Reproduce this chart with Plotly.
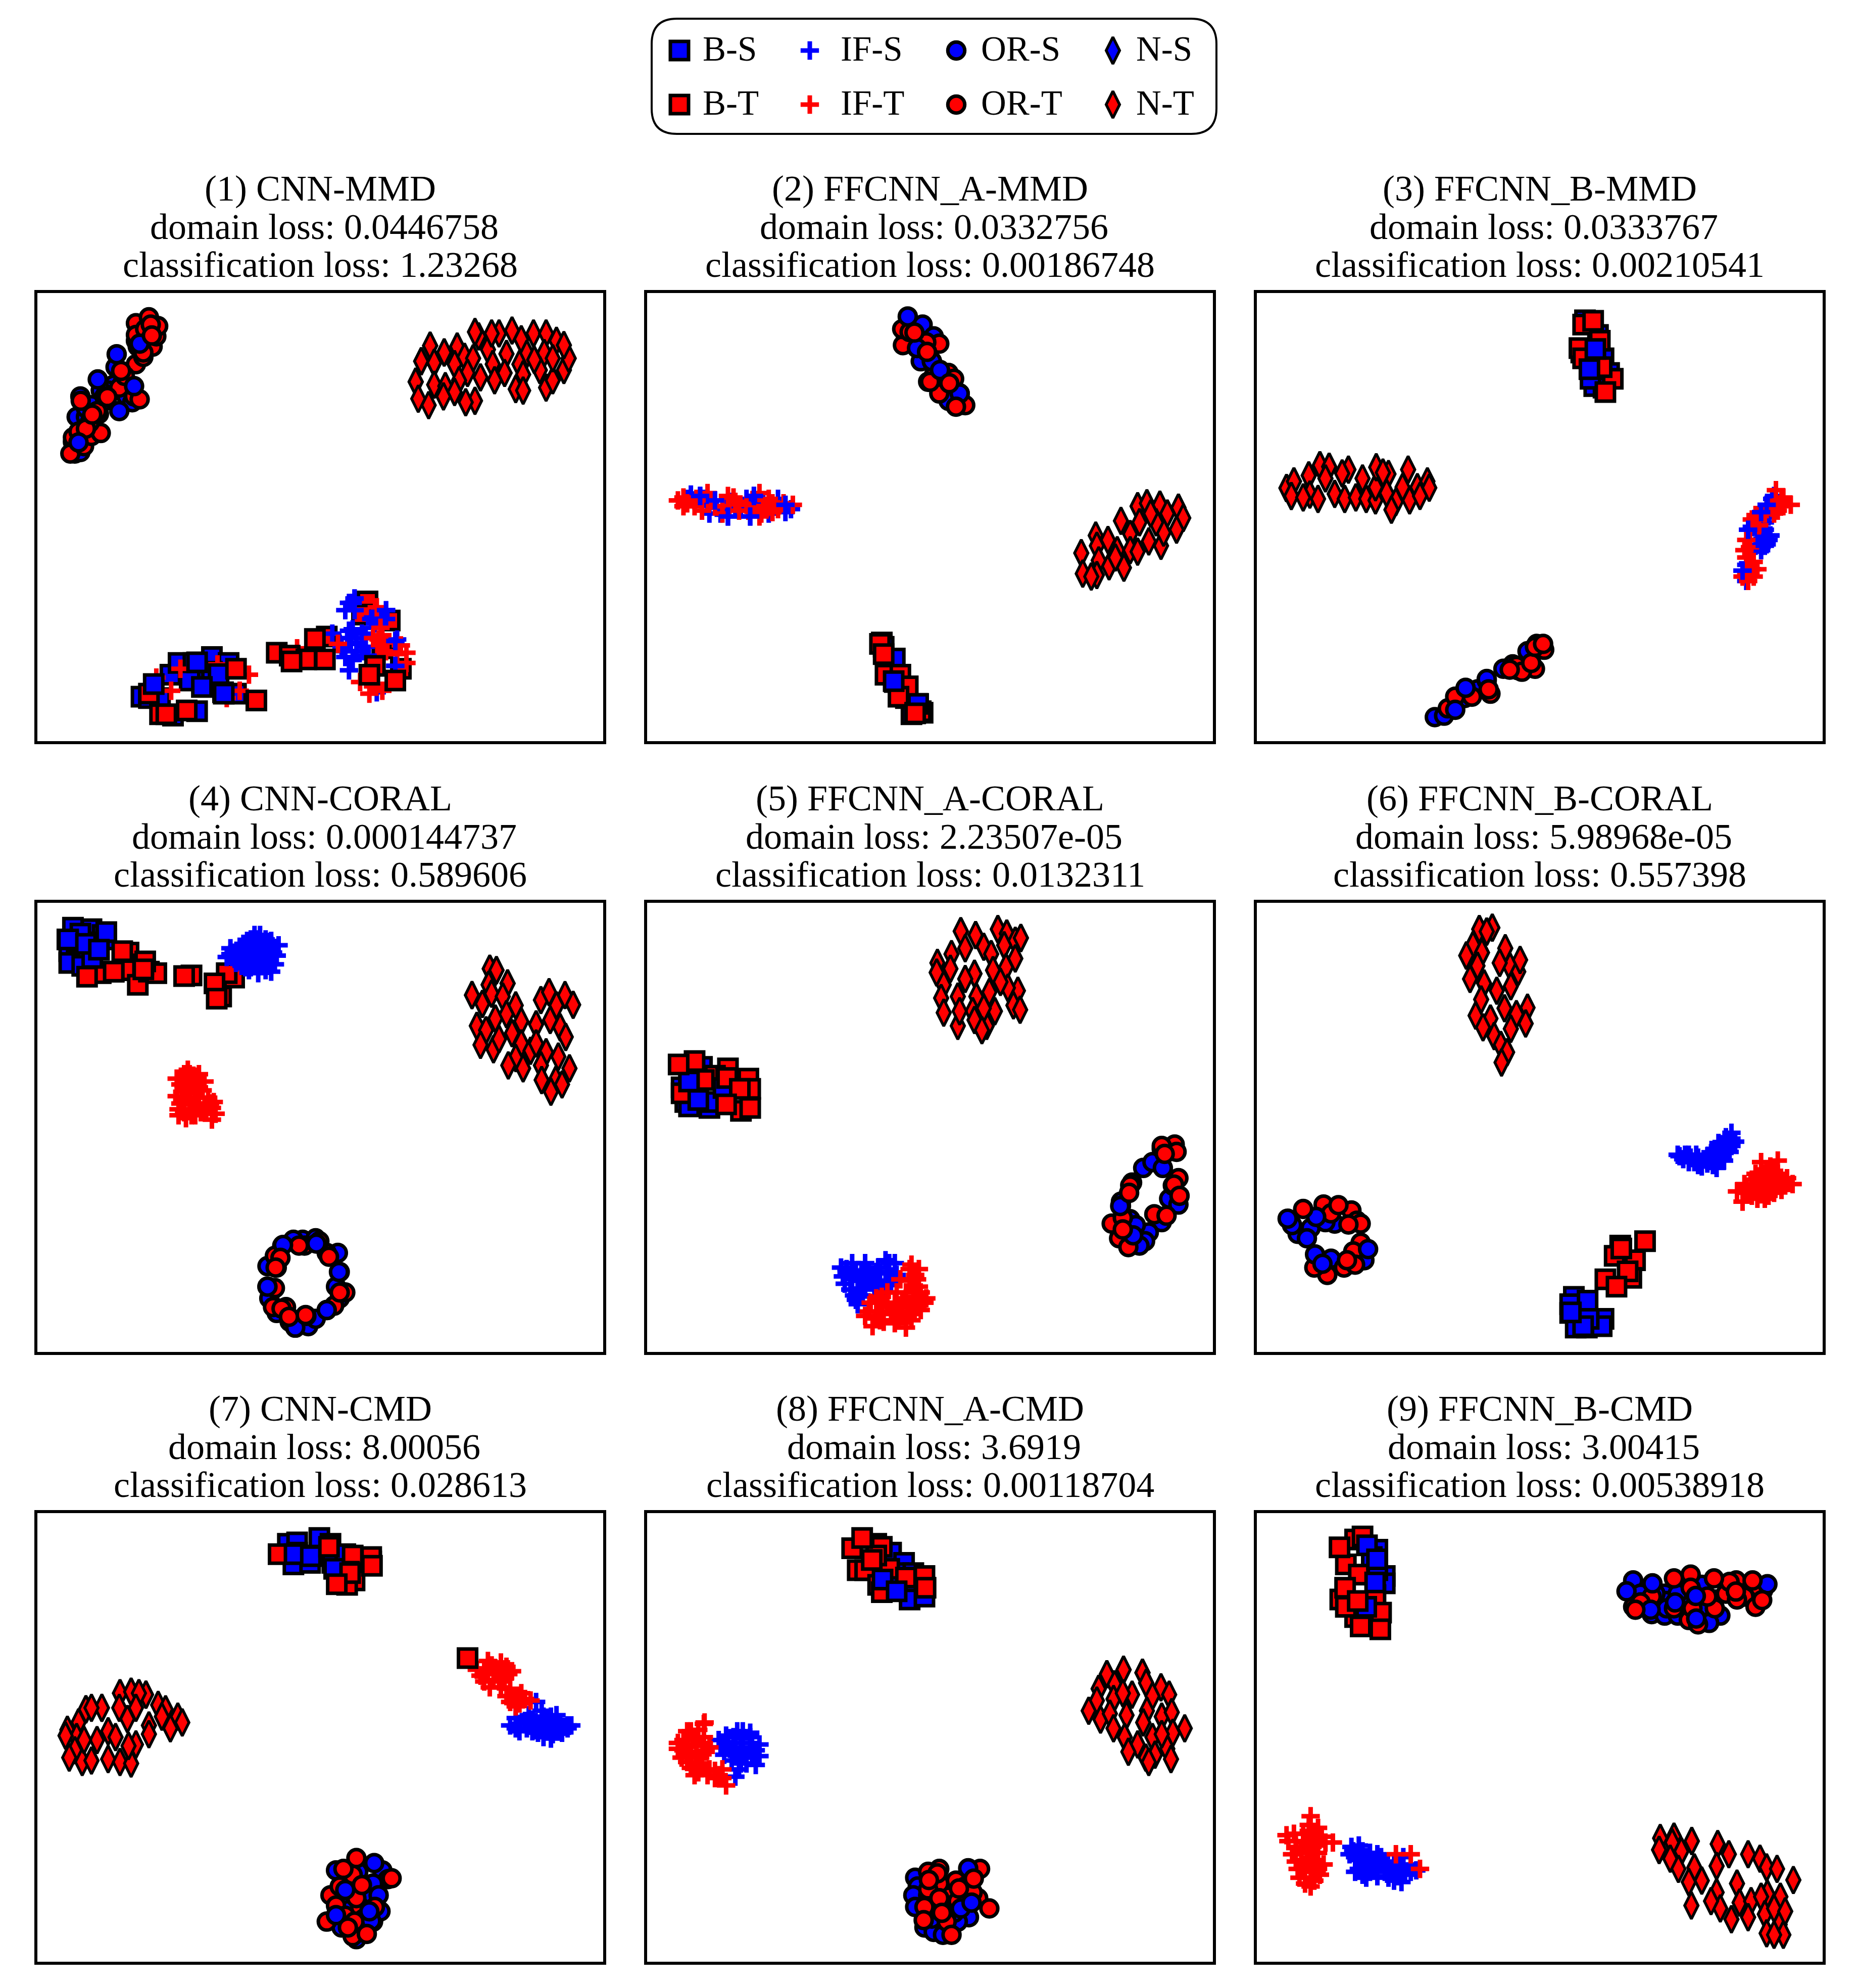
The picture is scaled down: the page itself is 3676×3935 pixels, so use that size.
import plotly.graph_objects as go

# t-SNE style clusters; units are crop pixels of each panel
TITLES = ["(1) CNN-MMD", "(2) FFCNN_A-MMD", "(3) FFCNN_B-MMD", "(4) CNN-CORAL", "(5) FFCNN_A-CORAL",
          "(6) FFCNN_B-CORAL", "(7) CNN-CMD", "(8) FFCNN_A-CMD", "(9) FFCNN_B-CMD"]
DOMAIN_LOSS = ["0.0446758", "0.0332756", "0.0333767", "0.000144737", "2.23507e-05",
               "5.98968e-05", "8.00056", "3.6919", "3.00415"]
CLASS_LOSS = ["1.23268", "0.00186748", "0.00210541", "0.589606", "0.0132311",
              "0.557398", "0.028613", "0.00118704", "0.00538918"]

LEGEND_NAMES = ["B-S", "IF-S", "OR-S", "N-S", "B-T", "IF-T", "OR-T", "N-T"]
LEGEND_KEYS = ["BS", "IS", "OS", "NS", "BT", "IT", "OT", "NT"]
LEGEND_MARK_X = [1345, 1603, 1893, 2203, 1345, 1603, 1893, 2203]
LEGEND_TEXT_X = [1391, 1664, 1942, 2249, 1391, 1664, 1942, 2249]
LEGEND_MARK_Y = [100, 100, 100, 100, 207, 207, 207, 207]
LEGEND_TEXT_Y = [103, 103, 103, 103, 210, 210, 210, 210]

# panel 1
P1_OS = [(120,565),(135,560),(115,525),(125,440),(135,370),(150,440),(185,430),(195,390),(230,270),(225,330),(285,180),(290,200),(315,130),(260,370),(275,390),(150,410),(165,400),(210,350),(250,320),(190,350)]
P1_OT = [(108,565),(145,540),(165,505),(190,495),(115,510),(280,370),(295,380),(240,340),(285,260),(305,235),(330,200),(340,165),(285,120),(320,100),(345,130),(285,160),(310,140),(325,125),(160,460),(130,490),(150,480),(180,420),(255,300),(305,220),(200,370)]
P1_OS2 = [(233,226),(182,312),(280,335),(240,420),(130,527),(295,190)]
P1_OT2 = [(328,162),(245,283),(208,372),(167,432),(136,385)]
P1_NT = [(1079,197),(1055,250),(1117,220),(1090,255),(1152,200),(1040,320),(1090,330),(1047,378),(1075,400),(1120,335),(1145,260),(1172,235),(1195,240),(1180,290),(1157,315),(1215,305),(1200,385),(1175,390),(1145,355),(1115,370),(1210,165),(1235,210),(1200,150),(1265,155),(1245,155),(1300,145),(1325,175),(1358,155),(1392,155),(1420,180),(1387,222),(1340,225),(1285,225),(1248,260),(1280,290),(1253,315),(1320,260),(1330,295),(1375,280),(1310,345),(1330,350),(1392,340),(1410,315),(1440,280),(1453,240),(1440,195),(1410,240),(1360,245)]
P1_BS = [(300,1395),(320,1400),(378,1320),(400,1280),(440,1280),(490,1260),(535,1280),(520,1380),(450,1445),(385,1460),(350,1400),(470,1340),(555,1385),(430,1340),(490,1310)]
P1_BT = [(350,1455),(320,1385),(910,1070),(895,1115),(970,1135),(800,1190),(1000,1300),(950,1230)]
P1_BS2 = [(333,1352),(450,1278),(508,1318),(463,1362),(522,1385)]
P1_BT2 = [(555,1300),(610,1408),(422,1442),(367,1455),(665,1245),(700,1255),(745,1268),(795,1268),(768,1198),(705,1275),(930,1290),(915,1320),(985,1340)]
P1_IS = [(875,1060),(860,1075),(850,1100),(870,1075),(925,1125),(960,1100),(940,1130),(815,1180),(870,1165),(855,1195),(880,1210),(850,1240),(880,1240),(905,1225),(985,1205),(985,1290),(990,1200),(860,1305),(935,1380),(850,1260),(910,1255),(920,1130),(860,1170),(930,1145),(895,1180),(905,1195),(865,1215),(895,1240),(835,1215),(925,1160),(945,1115),(875,1100),(960,1130),(840,1230),(870,1270)]
P1_IT = [(1015,1245),(1015,1280),(950,1185),(925,1195),(960,1210),(915,1385),(925,1360),(950,1375),(890,1345),(405,1300),(380,1375),(505,1285),(565,1375),(590,1320),(530,1400),(525,1365),(340,1330),(720,1230),(830,1215),(935,1090),(945,1160),(1000,1220),(990,1250),(940,1200),(960,1240)]
P1_IS2 = [(875,1060),(960,1100),(985,1205),(985,1290)]

# panel 2
P2_OS = [(765,125),(720,165),(750,205),(760,250),(790,250),(812,280),(795,165),(865,360),(835,385),(780,320),(870,395)]
P2_OT = [(712,195),(710,140),(730,150),(810,190),(775,185),(795,300),(810,360),(835,290),(865,400),(785,320),(880,400),(850,310)]
P2_OS2 = [(725,97),(790,250),(750,205),(812,280),(865,360)]
P2_OT2 = [(743,152),(777,218),(837,325),(855,405)]
P2_BS = [(655,1210),(660,1225),(690,1265),(690,1345),(750,1420),(765,1450),(735,1455),(720,1400)]
P2_BT = [(650,1215),(665,1320),(705,1320),(725,1360),(700,1395),(745,1450),(760,1445)]
P2_BS2 = [(687,1342),(753,1420)]
P2_BT2 = [(660,1250),(745,1452)]
P2_IS = [(140,705),(165,710),(205,725),(220,770),(240,780),(290,720),(310,710),(320,750),(300,780),(350,745),(395,740),(375,720),(395,765),(130,720),(185,740),(260,750),(350,770),(150,725),(175,720),(210,750),(245,730),(275,745),(305,735),(335,725),(375,745),(240,760),(190,770),(410,755)]
P2_IT = [(105,725),(130,735),(185,700),(170,760),(240,710),(260,730),(270,760),(325,700),(350,720),(330,770),(360,765),(415,740),(390,735),(325,780),(150,745),(225,745),(295,760),(345,750),(120,715),(155,720),(205,745),(225,770),(255,715),(310,745),(335,745),(375,755),(360,735),(195,725),(290,740),(120,745)]
P2_IS2 = [(165,710),(205,725),(310,710),(395,740),(300,780),(240,780)]
P2_NT = [(1360,760),(1345,745),(1370,735),(1405,740),(1425,770),(1455,750),(1468,785),(1450,825),(1408,880),(1375,865),(1415,835),(1395,800),(1300,795),(1325,840),(1265,860),(1232,845),(1235,880),(1193,905),(1290,895),(1325,895),(1240,930),(1268,950),(1308,955),(1345,900),(1197,975),(1235,980),(1220,985),(1285,920),(1350,800),(1380,770)]

# panel 3
P3_BS = [(910,110),(930,125),(945,160),(900,220),(915,225),(960,240),(975,290),(935,335),(960,340),(925,310),(940,270)]
P3_BT = [(905,125),(950,180),(895,205),(985,310),(955,270),(905,240)]
P3_BS2 = [(938,208),(922,277)]
P3_BT2 = [(932,112),(965,355)]
P3_IS = [(1420,710),(1400,740),(1385,765),(1350,825),(1410,845),(1400,875),(1385,895),(1395,850),(1350,940),(1335,965),(1345,1000),(1370,800),(1415,720),(1395,800),(1370,880),(1405,780),(1380,780),(1410,760),(1390,780),(1360,815),(1395,825),(1380,860),(1405,860),(1360,900),(1360,960),(1345,945),(1375,840),(1425,735)]
P3_IT = [(1425,690),(1440,725),(1465,740),(1415,750),(1375,790),(1355,825),(1340,895),(1365,935),(1345,975),(1365,985),(1375,960),(1350,1000),(1430,760),(1445,715),(1345,860),(1380,810),(1400,755),(1420,770),(1445,745),(1395,770),(1355,885),(1345,920),(1355,955),(1335,985),(1370,775),(1360,790)]
P3_IS2 = [(1385,765),(1350,825),(1410,845),(1395,880),(1335,965),(1400,740)]
P3_OS = [(505,1465),(530,1460),(585,1400),(620,1370),(645,1340),(690,1300),(715,1285),(755,1240),(780,1215)]
P3_OT = [(540,1435),(560,1395),(605,1395),(655,1385),(730,1305),(775,1300),(725,1290),(790,1225),(800,1235),(740,1310)]
P3_OS2 = [(588,1365),(560,1440),(645,1335)]
P3_OT2 = [(650,1370),(707,1303),(765,1280),(775,1225),(797,1215)]
P3_NT = [(105,683),(125,660),(118,710),(165,640),(195,605),(220,610),(272,620),(255,633),(210,650),(168,705),(150,715),(190,720),(235,703),(262,720),(292,715),(320,720),(345,725),(310,650),(345,680),(347,612),(380,635),(365,630),(375,700),(400,730),(388,757),(437,725),(418,680),(433,620),(458,680),(485,660),(490,682),(465,710)]

# panel 4
P4_BS = [(115,105),(165,110),(195,130),(100,145),(105,185),(125,215),(150,155),(205,145),(185,180),(105,225),(140,235),(135,125),(205,120)]
P4_BT = [(265,190),(255,250),(225,255),(190,260),(290,300),(320,255),(340,260),(305,230),(435,268),(550,275),(515,340),(530,260),(310,220)]
P4_BS2 = [(102,145),(167,208),(150,160),(185,180)]
P4_BT2 = [(248,185),(225,255),(153,272),(305,247),(415,270),(497,295),(503,347)]
P4_IS = [(605,130),(620,130),(585,150),(650,150),(670,165),(565,170),(610,170),(640,180),(540,195),(530,205),(570,205),(610,210),(650,200),(665,200),(595,240),(615,260),(650,255),(580,240),(630,230),(555,225),(600,185),(660,230),(540,175),(625,200),(595,145),(615,145),(635,145),(575,160),(600,160),(625,160),(650,165),(585,175),(615,175),(650,178),(550,190),(575,190),(595,190),(630,190),(655,190),(545,205),(590,205),(635,205),(565,220),(585,220),(605,220),(625,220),(645,220),(570,235),(610,235),(640,235),(590,250),(635,250)]
P4_IT = [(425,590),(395,620),(440,610),(470,630),(405,640),(440,640),(395,680),(430,670),(465,660),(400,725),(430,700),(470,710),(495,700),(500,740),(490,760),(420,755),(445,745),(475,730),(410,695),(440,725),(450,620),(415,605),(430,605),(455,605),(420,625),(435,625),(420,650),(455,650),(410,665),(445,665),(420,685),(450,685),(480,685),(405,705),(445,705),(485,705),(455,720),(490,720),(415,735),(460,735),(400,745),(435,745)]
P4_OS = [(735,1170),(770,1165),(680,1190),(710,1170),(830,1215),(640,1260),(640,1330),(645,1370),(665,1420),(715,1470),(750,1465),(800,1410),(825,1330),(835,1280),(835,1370),(770,1440)]
P4_OT = [(800,1215),(740,1190),(725,1190),(665,1265),(660,1335),(850,1350),(820,1395),(690,1400),(655,1400),(700,1450),(745,1430),(780,1175),(660,1225)]
P4_OS2 = [(682,1188),(772,1183),(833,1280),(640,1330),(800,1410),(715,1470)]
P4_OT2 = [(806,1228),(675,1232),(662,1265),(835,1350),(678,1405),(743,1427),(698,1433)]
P4_NT = [(1240,245),(1258,250),(1288,295),(1237,300),(1245,330),(1192,335),(1220,365),(1275,340),(1255,415),(1285,400),(1310,370),(1205,440),(1230,455),(1215,505),(1250,520),(1265,485),(1300,465),(1325,425),(1365,435),(1378,352),(1400,325),(1420,370),(1443,335),(1465,368),(1403,420),(1430,445),(1445,478),(1325,500),(1350,525),(1310,550),(1290,575),(1330,585),(1392,530),(1378,575),(1425,545),(1455,585),(1418,625),(1380,625),(1405,665),(1435,640),(1365,500)]

# panel 5
P5_NT = [(868,117),(908,130),(968,110),(992,125),(1015,150),(1030,140),(843,195),(880,175),(930,170),(985,165),(950,195),(1015,210),(990,240),(805,225),(803,258),(840,245),(905,262),(955,250),(880,280),(822,300),(860,340),(945,325),(1022,320),(995,310),(910,340),(815,345),(822,395),(900,390),(960,390),(1010,370),(1028,385),(860,440),(905,420),(938,440),(930,380),(865,390),(925,455),(975,290)]
P5_BS = [(115,650),(135,630),(170,580),(125,700),(135,715),(190,720),(230,650),(190,700),(160,610)]
P5_BT = [(150,560),(240,585),(205,610),(295,620),(300,655),(115,670),(275,730),(175,625),(235,620)]
P5_BS2 = [(135,630),(160,693),(228,652)]
P5_BT2 = [(107,572),(238,618),(272,655),(235,708),(300,720)]
P5_IS = [(560,1270),(545,1265),(600,1275),(665,1240),(690,1250),(645,1265),(575,1300),(555,1320),(620,1310),(665,1310),(695,1290),(590,1345),(590,1390),(570,1340),(635,1330),(600,1310),(585,1375),(650,1285),(660,1340),(575,1250),(610,1250),(675,1250),(560,1280),(585,1280),(620,1280),(640,1280),(670,1280),(550,1295),(600,1295),(630,1295),(685,1295),(590,1310),(645,1310),(610,1325),(650,1325),(680,1325),(610,1340),(580,1360),(600,1360)]
P5_IT = [(735,1255),(745,1290),(730,1310),(755,1330),(775,1370),(695,1350),(640,1370),(720,1370),(640,1430),(610,1430),(630,1465),(660,1450),(695,1420),(720,1470),(725,1430),(760,1410),(745,1380),(690,1385),(670,1400),(740,1340),(730,1270),(755,1270),(750,1305),(705,1305),(670,1350),(720,1350),(760,1350),(655,1365),(745,1365),(625,1385),(650,1385),(710,1385),(770,1385),(700,1400),(730,1400),(750,1400),(655,1415),(620,1415),(680,1415),(740,1415),(700,1445),(650,1445),(735,1445),(690,1455)]
P5_OS = [(1360,925),(1385,905),(1330,975),(1300,1055),(1430,1030),(1455,1050),(1410,1110),(1325,1100),(1375,1145),(1365,1175),(1350,1190),(1315,1130),(1300,1040),(1340,1120)]
P5_OT = [(1445,845),(1410,860),(1450,870),(1325,985),(1440,985),(1455,960),(1275,1115),(1305,1095),(1295,1165),(1320,1195),(1390,1083),(1410,850)]
P5_OS2 = [(1413,925),(1298,1055),(1333,1155)]
P5_OT2 = [(1418,877),(1322,1010),(1443,982),(1458,1020),(1423,1088),(1305,1135)]

# panel 6
P6_NT = [(625,110),(660,105),(645,118),(608,165),(590,200),(632,190),(620,235),(695,175),(708,238),(680,225),(730,255),(600,280),(638,295),(710,305),(672,320),(630,350),(693,380),(615,405),(655,415),(755,378),(725,400),(750,432),(710,450),(665,475),(683,505),(700,530),(685,565),(635,445),(735,215)]
P6_IS = [(1305,805),(1290,820),(1315,835),(1270,840),(1250,875),(1300,870),(1165,885),(1180,880),(1215,890),(1240,910),(1285,900),(1190,905),(1225,920),(1265,925),(1160,880),(1305,850),(1205,905),(1250,900),(1295,835),(1285,860),(1270,880),(1290,850),(1230,895),(1195,890),(1210,880),(1175,895),(1240,885),(1255,915),(1215,915),(1275,865),(1260,860),(1300,830),(1305,825),(1190,880),(1240,900),(1280,885)]
P6_IT = [(1385,905),(1430,900),(1410,920),(1370,945),(1455,960),(1340,980),(1320,1005),(1400,960),(1470,980),(1335,1040),(1375,1030),(1405,1020),(1440,1000),(1360,990),(1430,960),(1345,1010),(1395,990),(1400,930),(1420,935),(1390,945),(1410,945),(1430,945),(1445,975),(1385,975),(1360,965),(1345,990),(1375,1005),(1405,1000),(1425,985),(1420,1010),(1395,1030),(1360,1020),(1440,970),(1410,975),(1375,960),(1385,1015),(1450,985)]
P6_OS = [(135,1150),(170,1130),(160,1165),(315,1240),(235,1115),(225,1235),(210,1110),(120,1120)]
P6_OT = [(205,1050),(280,1070),(225,1080),(295,1105),(305,1115),(305,1180),(285,1210),(215,1290),(180,1265),(260,1265),(290,1255)]
P6_OS2 = [(108,1098),(185,1092),(182,1220),(202,1252),(325,1202)]
P6_OT2 = [(150,1065),(245,1052),(272,1118),(268,1240)]
P6_BS = [(880,1365),(870,1390),(870,1420),(885,1470),(915,1470),(960,1440),(955,1465),(920,1440),(905,1465)]
P6_BS2 = [(917,1378),(872,1418)]
P6_BT = [(1005,1190),(990,1225),(1045,1240),(1035,1300),(965,1305)]
P6_BT2 = [(1072,1175),(1008,1200),(1025,1278),(995,1330)]

# panel 7
P7_BS = [(695,130),(720,125),(780,110),(810,130),(710,200),(755,195),(720,160),(830,220),(815,195),(850,165),(760,170)]
P7_BT = [(670,165),(870,170),(920,190),(860,225),(875,255),(855,270),(920,175)]
P7_BS2 = [(713,165),(757,172),(820,215)]
P7_BT2 = [(806,140),(922,205),(863,230),(827,268),(1180,520)]
P7_IS = [(1365,670),(1310,725),(1345,715),(1380,700),(1420,715),(1450,750),(1295,750),(1340,760),(1385,790),(1400,755),(1410,780),(1450,760),(1365,745),(1320,745),(1430,745),(1385,720),(1335,735),(1355,730),(1395,735),(1415,740),(1440,755),(1460,750),(1310,760),(1355,770),(1375,765),(1395,770),(1425,765),(1435,775),(1405,795),(1370,775),(1320,770),(1345,745),(1380,745),(1405,720)]
P7_IT = [(1235,530),(1270,535),(1205,560),(1260,570),(1300,565),(1225,600),(1265,600),(1240,620),(1295,625),(1325,640),(1295,670),(1350,665),(1320,675),(1235,575),(1280,590),(1245,545),(1225,555),(1285,550),(1250,595),(1215,580),(1290,575),(1255,555),(1310,650),(1300,650),(1285,650),(1335,660),(1270,620),(1310,685)]
P7_NT = [(242,640),(272,635),(312,645),(293,640),(150,695),(193,690),(240,690),(285,690),(165,690),(130,740),(100,765),(345,680),(365,695),(355,720),(398,720),(410,740),(378,760),(320,750),(262,728),(210,770),(230,790),(180,800),(125,790),(95,785),(120,835),(140,875),(105,860),(165,870),(210,865),(242,875),(272,880),(285,815),(265,820),(320,780),(145,800)]
P7_OS = [(825,1245),(950,1245),(965,1275),(925,1290),(925,1420),(880,1480),(865,1420),(945,1385),(860,1340),(885,1250),(900,1330),(860,1380),(840,1440),(895,1430),(940,1330)]
P7_OT = [(810,1330),(825,1365),(800,1420),(870,1470),(860,1290),(890,1370),(930,1370),(880,1340),(870,1260),(835,1300),(900,1410),(850,1400),(875,1420)]
P7_OS2 = [(928,1220),(850,1312),(825,1398),(920,1418),(915,1385)]
P7_OT2 = [(845,1240),(880,1203),(895,1295),(975,1272),(857,1440),(908,1462)]

# panel 8
P8_BS = [(640,130),(680,160),(715,195),(745,300),(730,320),(770,310),(700,230),(740,230)]
P8_BT = [(575,145),(590,220),(610,220),(655,140),(675,215),(645,270),(655,295),(720,245),(770,240),(640,170)]
P8_BS2 = [(657,252),(695,292)]
P8_BT2 = [(602,110),(628,185),(773,280)]
P8_IS = [(280,770),(235,785),(300,790),(215,800),(260,810),(325,815),(245,830),(300,830),(325,855),(270,860),(230,850),(315,885),(270,900),(260,925),(290,880),(255,790),(275,795),(235,810),(280,825),(305,810),(240,815),(260,840),(285,850),(305,855),(250,870),(290,860),(315,835),(275,880),(220,825),(265,770),(300,775)]
P8_IT = [(177,740),(130,770),(160,765),(120,800),(105,830),(175,810),(140,840),(115,860),(180,840),(170,880),(150,920),(185,920),(225,900),(235,955),(205,930),(145,800),(165,860),(130,875),(140,770),(150,790),(105,810),(130,815),(155,820),(120,835),(155,850),(135,860),(190,825),(175,790),(165,895),(140,895),(160,910),(205,905),(215,920),(225,930),(190,900),(175,745)]
P8_NT = [(1262,575),(1307,560),(1358,570),(1283,610),(1368,605),(1240,625),(1330,645),(1408,620),(1430,645),(1235,665),(1280,660),(1385,650),(1305,640),(1213,700),(1245,730),(1270,710),(1315,715),(1370,700),(1410,720),(1437,705),(1360,740),(1280,760),(1310,790),(1440,775),(1472,760),(1345,815),(1385,790),(1425,830),(1320,840),(1367,860),(1392,850),(1435,865),(1375,875),(1410,780)]
P8_OS = [(745,1270),(752,1300),(740,1330),(745,1370),(770,1440),(795,1455),(820,1465),(870,1375),(890,1405),(860,1420),(780,1330),(800,1300),(830,1370),(790,1410),(850,1390)]
P8_OT = [(810,1240),(780,1250),(920,1240),(855,1280),(835,1335),(770,1370),(915,1340),(945,1375),(880,1300),(810,1290),(780,1310),(830,1420),(900,1320),(860,1350),(810,1340)]
P8_OS2 = [(888,1238),(868,1375),(897,1355)]
P8_OT2 = [(805,1255),(782,1278),(903,1273),(863,1307),(817,1390),(768,1415),(843,1465)]

# panel 9
P9_BS = [(350,150),(370,240),(370,265),(350,220),(335,175)]
P9_BT = [(290,115),(310,105),(265,200),(300,235),(345,305),(360,365),(290,380),(250,320),(265,345)]
P9_BS2 = [(322,135),(349,183),(344,262),(320,345)]
P9_BT2 = [(248,142),(263,280),(297,325),(305,412),(358,422)]
P9_IS = [(280,1165),(300,1160),(275,1190),(330,1185),(300,1210),(340,1210),(360,1200),(290,1250),(320,1270),(350,1240),(385,1240),(420,1200),(415,1285),(440,1250),(380,1270),(420,1240),(395,1220),(350,1265),(455,1245),(285,1180),(310,1180),(290,1200),(320,1200),(350,1190),(310,1225),(340,1230),(365,1225),(300,1240),(330,1250),(370,1250),(395,1250),(405,1265),(425,1260),(375,1215),(410,1225),(440,1225),(310,1260),(395,1280)]
P9_IT = [(170,1060),(165,1090),(190,1100),(125,1120),(200,1130),(110,1145),(150,1150),(230,1150),(190,1160),(120,1190),(160,1180),(130,1215),(185,1210),(205,1225),(150,1240),(140,1270),(195,1260),(170,1300),(175,1270),(400,1190),(440,1190),(465,1240),(165,1110),(150,1120),(180,1125),(130,1145),(170,1135),(210,1150),(130,1165),(175,1165),(145,1185),(165,1205),(145,1210),(190,1185),(150,1225),(175,1225),(135,1240),(170,1250),(155,1270),(190,1240),(155,1290),(105,1125),(180,1280)]
P9_OS = [(1040,255),(1125,300),(1130,325),(1090,370),(1125,375),(1160,375),(1275,375),(1245,400),(1310,290),(1225,270),(1220,350),(1100,300),(1180,330),(1260,320),(1160,300),(1130,350),(1060,300)]
P9_OT = [(1195,235),(1318,255),(1340,310),(1370,345),(1390,290),(1040,345),(1195,280),(1260,350),(1190,390),(1215,405),(1090,310),(1290,300),(1240,310),(1060,330),(1150,350),(1200,350),(1320,320),(1380,280),(1300,260)]
P9_OS2 = [(1022,292),(1092,265),(1087,355),(1153,330),(1209,308),(1210,385),(1402,268)]
P9_OT2 = [(1150,248),(1258,248),(1046,355),(1317,293),(1388,322),(1362,255)]
P9_NT = [(1113,1135),(1150,1130),(1145,1150),(1198,1145),(1170,1180),(1110,1175),(1140,1205),(1205,1235),(1162,1240),(1190,1285),(1225,1280),(1268,1155),(1298,1190),(1265,1230),(1350,1190),(1382,1205),(1400,1235),(1428,1240),(1472,1278),(1320,1290),(1265,1320),(1197,1365),(1275,1375),(1250,1350),(1305,1412),(1327,1355),(1358,1350),(1350,1405),(1402,1325),(1437,1335),(1385,1335),(1395,1395),(1420,1375),(1435,1430),(1400,1460),(1445,1465),(1450,1385),(1420,1465)]

# layout, in page pixels; the page body has an 8px margin so the figure starts at 8,8
PAGE_MARGIN = 8
W, H = 3676 - 2 * PAGE_MARGIN, 3935 - 2 * PAGE_MARGIN
COL_PX = [(74, 1194), (1281, 2401), (2488, 3608)]
ROW_PX = [(580, 1467), (1787, 2676), (2995, 3883)]
COL_RANGE = [(19, 1546), (22, 1548), (25, 1551)]
ROW_RANGE = [(1547, 17), (1553, 20), (1557, 25)]
TITLE_TOPS = [577, 1784, 2992]
TITLE_OFFSETS = [204, 128, 53]
TITLE_SHIFT = [0, 8, 0]

BLUE, RED = "#0000ff", "#ff0000"
FONT = "Liberation Serif"
FONT_SIZE = 72
LEGEND_FONT_SIZE = 69
STYLES = {
    "B": dict(symbol="square", size=36, line=dict(color="black", width=7)),
    "O": dict(symbol="circle", size=33.5, line=dict(color="black", width=7)),
    "N": dict(symbol="diamond-tall", size=38, line=dict(color="black", width=5.5)),
}
DRAW_ORDER = ["BS", "BT", "OS", "OT", "NS", "NT", "IS", "IT", "IS2", "BS2", "BT2", "OS2", "OT2"]


def marker_for(key):
    """Marker dict for a class key such as BS or IT."""
    color = BLUE if key[1] == "S" else RED
    if key[0] == "I":
        return dict(symbol="cross-thin", size=26, color=color, line=dict(color=color, width=9))
    return dict(color=color, **STYLES[key[0]])


def add_points(fig, points, key, axis):
    fig.add_trace(go.Scatter(
        x=[p[0] for p in points],
        y=[p[1] for p in points],
        mode="markers",
        marker=marker_for(key[:2]),
        xaxis="x" + axis,
        yaxis="y" + axis,
        name=key[:2],
        showlegend=False,
    ))


fig = go.Figure()
layout_axes = {}
annotations = []

for n in range(1, 10):
    row, col = (n - 1) // 3, (n - 1) % 3
    axis = "" if n == 1 else str(n)
    x0, x1 = COL_PX[col]
    y0, y1 = ROW_PX[row]
    frame = dict(showticklabels=False, ticks="", showgrid=False, zeroline=False, showline=True,
                 mirror=True, linecolor="black", linewidth=6, fixedrange=True)
    layout_axes["xaxis" + axis] = dict(domain=[(x0 - PAGE_MARGIN) / W, (x1 - PAGE_MARGIN) / W],
                                       range=COL_RANGE[col], anchor="y" + axis, **frame)
    layout_axes["yaxis" + axis] = dict(domain=[1 - (y1 - PAGE_MARGIN) / H, 1 - (y0 - PAGE_MARGIN) / H],
                                       range=ROW_RANGE[row], anchor="x" + axis, **frame)

    for key in DRAW_ORDER:
        # N-S sits fully hidden under N-T in every panel
        points = globals().get(f"P{n}_NT", [])[:6] if key == "NS" else globals().get(f"P{n}_{key}", [])
        if points:
            add_points(fig, points, key, axis)

    lines = [TITLES[n - 1], "domain loss: " + DOMAIN_LOSS[n - 1], "classification loss: " + CLASS_LOSS[n - 1]]
    for text, offset, shift in zip(lines, TITLE_OFFSETS, TITLE_SHIFT):
        annotations.append(dict(text=text, x=((x0 + x1) / 2 + shift - PAGE_MARGIN) / W,
                                y=1 - (TITLE_TOPS[row] - offset - PAGE_MARGIN) / H, xref="paper", yref="paper",
                                xanchor="center", yanchor="middle", showarrow=False,
                                font=dict(family=FONT, size=FONT_SIZE, color="black")))

# legend: own pixel-scaled axes, since the key sizes and rounded box are not what plotly's legend gives
layout_axes["xaxis10"] = dict(domain=[0, 1], range=[PAGE_MARGIN, PAGE_MARGIN + W], visible=False,
                              anchor="y10", fixedrange=True)
layout_axes["yaxis10"] = dict(domain=[0, 1], range=[PAGE_MARGIN + H, PAGE_MARGIN], visible=False,
                              anchor="x10", fixedrange=True)
for name, key, mx, tx, my, ty in zip(LEGEND_NAMES, LEGEND_KEYS, LEGEND_MARK_X, LEGEND_TEXT_X, LEGEND_MARK_Y, LEGEND_TEXT_Y):
    fig.add_trace(go.Scatter(x=[mx], y=[my], mode="markers", marker=marker_for(key), name=name,
                             xaxis="x10", yaxis="y10", showlegend=False))
    fig.add_trace(go.Scatter(x=[tx], y=[ty], mode="text", text=[name], textposition="middle right",
                             textfont=dict(family=FONT, size=LEGEND_FONT_SIZE, color="black"),
                             xaxis="x10", yaxis="y10", showlegend=False))

legend_box = "M 1340 37 L 2358 37 Q 2408 37 2408 87 L 2408 215 Q 2408 265 2358 265 L 1340 265 Q 1290 265 1290 215 L 1290 87 Q 1290 37 1340 37 Z"

fig.update_layout(
    width=W,
    height=H,
    margin=dict(l=0, r=0, t=0, b=0),
    paper_bgcolor="white",
    plot_bgcolor="rgba(0,0,0,0)",
    showlegend=False,
    annotations=annotations,
    shapes=[dict(type="path", path=legend_box, xref="x10", yref="y10", line=dict(color="black", width=4))],
    **layout_axes,
)

fig.write_html("out.html")
